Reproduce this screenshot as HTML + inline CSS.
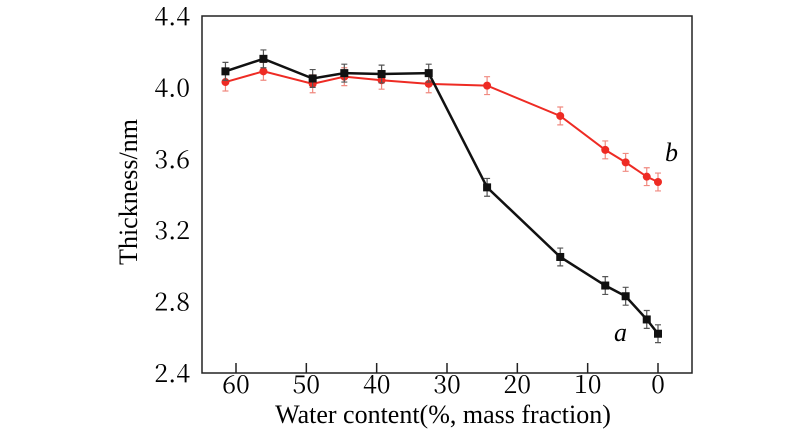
<!DOCTYPE html>
<html><head><meta charset="utf-8"><style>
body{margin:0;background:#fff;}
svg{display:block;}
text{font-family:"Liberation Serif","Times New Roman",serif;}
.num{font-family:"Noto Serif CJK SC","Liberation Serif",serif;}
</style></head><body>
<svg id="chart" width="800" height="445" font-family="Liberation Serif, serif">
<rect x="202" y="16" width="490" height="357" fill="none" stroke="#222" stroke-width="1.5"/>
<g id="axes"></g>
<g font-size="25" text-anchor="middle">
<text class="num" x="236" y="393">60</text>
<text class="num" x="306.3" y="393">50</text>
<text class="num" x="376.7" y="393">40</text>
<text class="num" x="447" y="393">30</text>
<text class="num" x="517.3" y="393">20</text>
<text class="num" x="587.7" y="393">10</text>
<text class="num" x="658" y="393">0</text>
</g>
<g font-size="25" text-anchor="end">
<text class="num" x="190" y="382">2.4</text>
<text class="num" x="190" y="310.6">2.8</text>
<text class="num" x="190" y="239.2">3.2</text>
<text class="num" x="190" y="167.8">3.6</text>
<text class="num" x="190" y="96.4">4.0</text>
<text class="num" x="190" y="25">4.4</text>
</g>
<g id="series"></g>
<text x="137" y="192" font-size="26" text-anchor="middle" transform="rotate(-90 137 192)">Thickness/nm</text>
<text x="443" y="423" font-size="26" text-anchor="middle">Water content(%, mass fraction)</text>
<text x="665" y="161" font-size="26" font-style="italic">b</text>
<text x="614" y="341" font-size="26" font-style="italic">a</text>
</svg>
<script>
const xVals=[61.5,56.1,49.1,44.6,39.3,32.6,24.3,13.9,7.5,4.6,1.6,0];
const seriesA=[4.09,4.16,4.05,4.08,4.075,4.08,3.44,3.05,2.89,2.83,2.70,2.62];
const seriesB=[4.03,4.09,4.02,4.06,4.04,4.02,4.01,3.84,3.65,3.58,3.50,3.47];
const xTicks=[60,50,40,30,20,10,0];
const errA=0.05, errB=0.05;
const NS="http://www.w3.org/2000/svg";
const xs=v=>658-v*(422/60);
const ys=v=>373-(v-2.4)/2.0*357;
function mk(tag,attrs,parent){const e=document.createElementNS(NS,tag);for(const k in attrs)e.setAttribute(k,attrs[k]);parent.appendChild(e);return e;}
const axes=document.getElementById('axes'),ser=document.getElementById('series');
xTicks.forEach(t=>{const x=xs(t);
 const l=mk('line',{x1:x,x2:x,y1:373,y2:363,stroke:'#222','stroke-width':1.5},axes);
 
 
});
function draw(vals,err,color,ecolor,square,name){
 const g=mk('g',{},ser);
 
 
 mk('polyline',{points:vals.map((v,i)=>xs(xVals[i])+','+ys(v)).join(' '),fill:'none',stroke:color,'stroke-width':square?2.5:2},g);
 vals.forEach((v,i)=>{const x=xs(xVals[i]),y=ys(v),y1=ys(v+err),y2=ys(v-err);
  mk('path',{d:`M${x},${y1}V${y2}M${x-3},${y1}H${x+3}M${x-3},${y2}H${x+3}`,stroke:ecolor,'stroke-width':1.2,fill:'none'},g);
  const m=square?mk('rect',{x:x-4,y:y-4,width:8,height:8,fill:color},g):mk('circle',{cx:x,cy:y,r:4,fill:color},g);
  
  
 });
}
draw(seriesB,errB,'#ee2b24','#f08a80',false,'series-b');
draw(seriesA,errA,'#111','#555',true,'series-a');
</script>
</body></html>
